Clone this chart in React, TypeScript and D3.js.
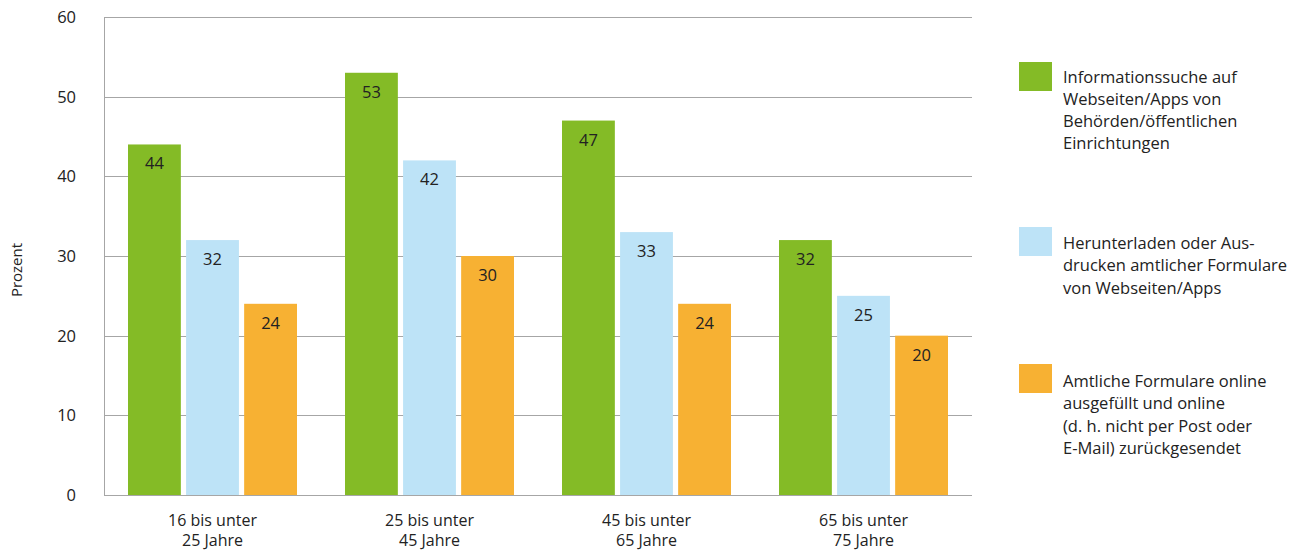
import React from "react";
import * as d3 from "d3";

const categories = [["16 bis unter", "25 Jahre"], ["25 bis unter", "45 Jahre"], ["45 bis unter", "65 Jahre"], ["65 bis unter", "75 Jahre"]];
const seriesNames = ["info", "download", "online"];
const infoValues = [44, 53, 47, 32];
const downloadValues = [32, 42, 33, 25];
const onlineValues = [24, 30, 24, 20];
const yTicks = [0, 10, 20, 30, 40, 50, 60];
const legendLabels = [
  ["Informationssuche auf", "Webseiten/Apps von", "Behörden/öffentlichen", "Einrichtungen"],
  ["Herunterladen oder Aus-", "drucken amtlicher Formulare", "von Webseiten/Apps"],
  ["Amtliche Formulare online", "ausgefüllt und online", "(d. h. nicht per Post oder", "E-Mail) zurückgesendet"],
];
const colors = ["#84bb26", "#bde3f7", "#f7b133"];

export default function App() {
  const W = 1296, H = 552;
  const left = 104, right = 972, top = 17, bottom = 495;
  const font = "'Open Sans', 'Noto Sans', sans-serif";
  const y = d3.scaleLinear().domain([0, 60]).range([bottom, top]);
  const x0 = d3.scaleBand<number>().domain(d3.range(categories.length)).range([left, right]).paddingInner(0).paddingOuter(0);
  const x1 = d3.scaleBand<number>().domain(d3.range(3)).range([24, x0.bandwidth() - 24]).paddingInner(0.09);
  const series = [infoValues, downloadValues, onlineValues];
  const legendY = [[62, 82.5], [227, 249], [364, 387]];
  return (
    <svg width={W} height={H} style={{ position: "absolute", left: 0, top: 0 }} fontFamily={font}>
      {yTicks.map((t) => (
        <g key={t}>
          {t > 0 && <line x1={left} x2={right} y1={Math.round(y(t)) + 0.5} y2={Math.round(y(t)) + 0.5} stroke="#a6a6a6" strokeWidth={1} />}
          <text x={76} y={y(t) + 6} textAnchor="end" fontSize={16.5} fill="#222">{t}</text>
        </g>
      ))}
      <line x1={left + 0.5} x2={left + 0.5} y1={top} y2={bottom} stroke="#a6a6a6" />
      {series.map((vals, si) =>
        vals.map((v, ci) => {
          const bx = x0(ci)! + x1(si)!;
          const bw = x1.bandwidth();
          return (
            <g key={`${si}-${ci}`}>
              <rect x={bx} y={y(v)} width={bw} height={bottom - y(v)} fill={colors[si]} />
              <text x={bx + bw / 2} y={y(v) + 25} textAnchor="middle" fontSize={16.5} fill="#222">{v}</text>
            </g>
          );
        })
      )}
      <line x1={left} x2={right} y1={bottom + 0.5} y2={bottom + 0.5} stroke="#a6a6a6" />
      {categories.map((c, ci) => (
        <text key={ci} x={x0(ci)! + x0.bandwidth() / 2} textAnchor="middle" fontSize={16} fill="#222">
          <tspan x={x0(ci)! + x0.bandwidth() / 2} y={526}>{c[0]}</tspan>
          <tspan x={x0(ci)! + x0.bandwidth() / 2} y={546}>{c[1]}</tspan>
        </text>
      ))}
      <text transform={`translate(22,270) rotate(-90)`} textAnchor="middle" fontSize={15} fill="#222">Prozent</text>
      {legendLabels.map((lines, i) => (
        <g key={seriesNames[i]}>
          <rect x={1019} y={legendY[i][0]} width={33} height={29} fill={colors[i]} />
          <text fontSize={16.5} fill="#222">
            {lines.map((l, li) => (
              <tspan key={li} x={1063} y={legendY[i][1] + li * 22.3}>{l}</tspan>
            ))}
          </text>
        </g>
      ))}
    </svg>
  );
}
